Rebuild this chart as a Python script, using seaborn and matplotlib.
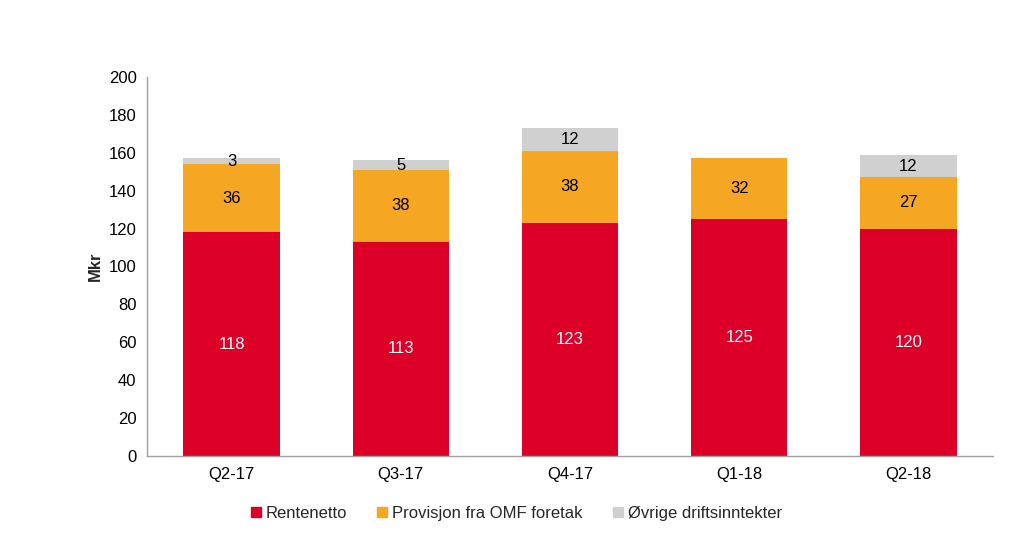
import numpy as np
import pandas as pd
import matplotlib
matplotlib.use("Agg")
import matplotlib.pyplot as plt
import seaborn as sns

# --- Data ---
kvartaler = ["Q2-17", "Q3-17", "Q4-17", "Q1-18", "Q2-18"]
rentenetto = [118, 113, 123, 125, 120]
provisjon = [36, 38, 38, 32, 27]
ovrige = [3, 5, 12, 0, 12]

serier = ["Rentenetto", "Provisjon fra OMF foretak", "Øvrige driftsinntekter"]
farger = ["#DC0028", "#F5A623", "#D0D0D0"]
tekstfarger = ["white", "black", "black"]

sns.set_style("white")
plt.rcParams["font.family"] = ["Liberation Sans", "DejaVu Sans"]

fig = plt.figure(figsize=(10.23, 5.38), dpi=100)
ax = fig.add_axes([0.1437, 0.1524, 0.827, 0.7046])

df = pd.DataFrame({"kvartal": kvartaler, serier[0]: rentenetto,
                   serier[1]: provisjon, serier[2]: ovrige})

bunn = np.zeros(len(kvartaler))
for navn, farge, tf in zip(serier, farger, tekstfarger):
    sns.barplot(data=df, x="kvartal", y=navn, color=farge, bottom=bunn,
                width=0.57, ax=ax, saturation=1, label=navn, linewidth=0)
    cont = ax.containers[-1]
    labels = [str(v) if v > 0 else "" for v in df[navn]]
    ax.bar_label(cont, labels=labels, label_type="center", color=tf, fontsize=12)
    bunn = bunn + df[navn].values

# --- Akser ---
ax.set_ylim(0, 200)
ax.set_yticks(range(0, 201, 20))
ax.set_xlim(-0.5, len(kvartaler) - 0.5)
ax.set_xlabel("")
ax.set_ylabel("Mkr", fontsize=12, fontweight="bold")
ax.tick_params(axis="both", labelsize=12, colors="black")
ax.tick_params(axis="y", length=4, color="#A0A0A0", width=1)
ax.tick_params(axis="x", which="major", length=0, pad=8)
ax.set_xticks(np.arange(-0.5, len(kvartaler)), minor=True)
ax.tick_params(axis="x", which="minor", length=5, color="#A0A0A0", width=1)

for s in ["top", "right"]:
    ax.spines[s].set_visible(False)
for s in ["left", "bottom"]:
    ax.spines[s].set_color("#A0A0A0")
    ax.spines[s].set_linewidth(1)

# --- Legende ---
ax.legend_ = None
handles = [plt.Line2D([], [], marker="s", linestyle="", color=f, markersize=7)
           for f in farger]
fig.legend(handles, serier, loc="center", bbox_to_anchor=(0.503, 0.045),
           ncol=3, frameon=False, fontsize=12, handletextpad=0.1,
           columnspacing=1.6, handlelength=1.0)

fig.savefig("out.png", dpi=100)
